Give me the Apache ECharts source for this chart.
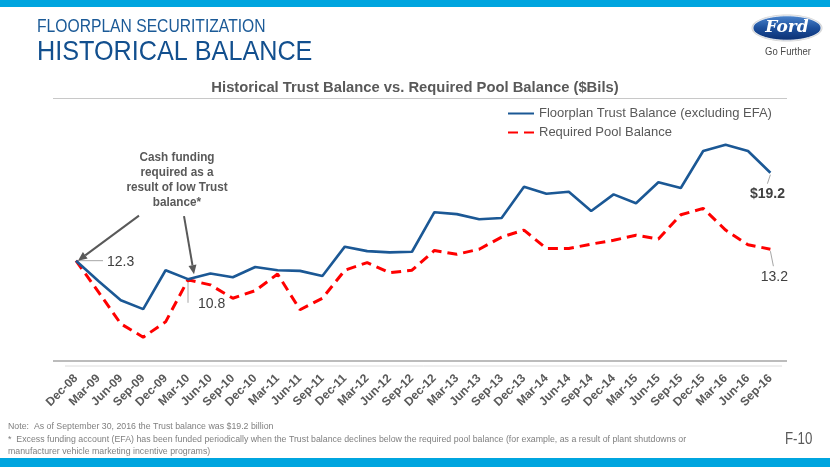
<!DOCTYPE html>
<html><head><meta charset="utf-8">
<script src="https://cdn.jsdelivr.net/npm/echarts@6/dist/echarts.min.js"></script>
<style>html,body{margin:0;padding:0;background:#fff}#c{width:830px;height:467px}</style>
</head><body><div id="c"></div>
<script>
const categories = ['Dec-08','Mar-09','Jun-09','Sep-09','Dec-09','Mar-10','Jun-10','Sep-10','Dec-10','Mar-11','Jun-11','Sep-11','Dec-11','Mar-12','Jun-12','Sep-12','Dec-12','Mar-13','Jun-13','Sep-13','Dec-13','Mar-14','Jun-14','Sep-14','Dec-14','Mar-15','Jun-15','Sep-15','Dec-15','Mar-16','Jun-16','Sep-16'];
const trustBalance = [12.3,10.7,9.2,8.5,11.55,10.85,11.3,11.0,11.8,11.55,11.5,11.1,13.4,13.05,12.95,13.0,16.1,15.95,15.55,15.65,18.1,17.55,17.7,16.2,17.5,16.8,18.45,18.0,20.9,21.4,20.9,19.2];
const requiredPool = [12.3,9.85,7.35,6.3,7.5,10.8,10.4,9.35,9.95,11.25,8.45,9.35,11.55,12.15,11.35,11.55,13.1,12.8,13.2,14.15,14.7,13.25,13.25,13.6,13.9,14.3,14.0,15.9,16.4,14.7,13.55,13.2];
const seriesNames = ['Floorplan Trust Balance (excluding EFA)','Required Pool Balance'];
const annotationText = 'Cash funding\nrequired as a\nresult of low Trust\nbalance*';
const footNote1 = 'Note:  As of September 30, 2016 the Trust balance was $19.2 billion';
const footNote2 = '*  Excess funding account (EFA) has been funded periodically when the Trust balance declines below the required pool balance (for example, as a result of plant shutdowns or';
const footNote3 = 'manufacturer vehicle marketing incentive programs)';

const SANS = '"Liberation Sans",Arial,sans-serif';
const BLUE = '#1b5895';
const GRAY = '#595959';

const chart = echarts.init(document.getElementById('c'));
chart.setOption({
  animation: false,
  backgroundColor: '#fff',
  legend: {
    orient: 'vertical', left: 502, top: 102, itemWidth: 26, itemHeight: 12, itemGap: 6,
    itemStyle: {opacity: 0},
    textStyle: {fontFamily: SANS, fontSize: 13, color: GRAY},
    data: seriesNames
  },
  grid: {left: 76, right: 59.6, top: 111.5, bottom: 100.5},
  xAxis: {
    type: 'category', data: categories, boundaryGap: false,
    axisLine: {show: false}, axisTick: {show: false},
    axisLabel: {interval: 0, rotate: 45, margin: 10, color: GRAY, fontFamily: SANS, fontWeight: 'bold', fontSize: 12}
  },
  yAxis: {type: 'value', min: 4, max: 24, show: false, splitLine: {show: false}},
  series: [
    {name: seriesNames[0], type: 'line', data: trustBalance, symbol: 'none', lineStyle: {color: BLUE, width: 2.6}, itemStyle: {color: BLUE}, z: 3},
    {name: seriesNames[1], type: 'line', data: requiredPool, symbol: 'none', lineStyle: {color: '#ff0000', width: 3, type: [10, 6]}, itemStyle: {color: '#ff0000'}, z: 2}
  ]
});

function px(seriesIdx, i) {
  const arr = seriesIdx === 0 ? trustBalance : requiredPool;
  return chart.convertToPixel({gridIndex: 0}, [i, arr[i]]);
}
function line(x1, y1, x2, y2, color, w) {
  return {type: 'line', shape: {x1, y1, x2, y2}, style: {stroke: color, lineWidth: w}, silent: true};
}
function arrow(x1, y1, x2, y2) {
  const ang = Math.atan2(y2 - y1, x2 - x1), L = 9, W = 4;
  const bx = x2 - L * Math.cos(ang), by = y2 - L * Math.sin(ang);
  const nx = -Math.sin(ang) * W, ny = Math.cos(ang) * W;
  return [
    line(x1, y1, bx, by, '#595959', 2),
    {type: 'polygon', shape: {points: [[x2, y2], [bx + nx, by + ny], [bx - nx, by - ny]]}, style: {fill: '#595959'}, silent: true}
  ];
}
function txt(x, y, text, opts, sx) {
  const el = {type: 'text', x, y, silent: true, style: Object.assign({text, fill: '#404040', fontFamily: SANS, fontSize: 14, align: 'left', verticalAlign: 'middle'}, opts || {})};
  if (sx) { el.scaleX = sx; }
  return el;
}

const last = categories.length - 1;
const p0 = px(0, 0);
const pM = px(0, 5);
const rM = px(1, 5);
const pE = px(0, last);
const rE = px(1, last);
const g = [];
// frame bars
g.push({type: 'rect', shape: {x: 0, y: 0, width: 830, height: 7}, style: {fill: '#00a5df'}, silent: true});
g.push({type: 'rect', shape: {x: 0, y: 458, width: 830, height: 9}, style: {fill: '#00a5df'}, silent: true});
// headings
g.push(txt(37, 27, 'FLOORPLAN SECURITIZATION', {fill: '#1b5a97', fontSize: 18}, 0.87));
g.push(txt(37, 52.5, 'HISTORICAL BALANCE', {fill: '#124f8e', fontSize: 28}, 0.9));
g.push(txt(415, 88, 'Historical Trust Balance vs. Required Pool Balance ($Bils)', {fill: GRAY, fontSize: 15, fontWeight: 'bold', align: 'center'}, 0.985));
// rules
g.push(line(53, 98.5, 787, 98.5, '#c8c8c8', 1));
g.push(line(53, 361, 787, 361, '#a6a6a6', 1.5));
g.push(line(65, 366, 782, 366, '#dcdcdc', 1));
// data labels
g.push(line(p0[0] + 2, p0[1], p0[0] + 27, p0[1], '#a6a6a6', 1));
g.push(txt(p0[0] + 31, p0[1] + 1, trustBalance[0].toFixed(1)));
g.push(line(rM[0], rM[1] + 2, rM[0], rM[1] + 23, '#a6a6a6', 1));
g.push(txt(rM[0] + 10, rM[1] + 24, requiredPool[5].toFixed(1)));
g.push(line(pE[0], pE[1] + 2, pE[0] - 3, pE[1] + 11, '#a6a6a6', 1));
g.push(txt(pE[0] - 3, pE[1] + 21, '$' + trustBalance[last].toFixed(1), {align: 'center', fontWeight: 'bold'}));
g.push(line(rE[0], rE[1] + 2, rE[0] + 3, rE[1] + 17, '#a6a6a6', 1));
g.push(txt(rE[0] + 4, rE[1] + 28, requiredPool[last].toFixed(1), {align: 'center'}));
// annotation
g.push({type: 'text', x: pM[0] - 11, y: pM[1] - 129, scaleX: 0.87, silent: true,
  style: {text: annotationText, align: 'center', verticalAlign: 'top', fontFamily: SANS, fontWeight: 'bold', fontSize: 13.5, lineHeight: 15, fill: GRAY}});
g.push(...arrow(p0[0] + 63, p0[1] - 45, p0[0] + 2, p0[1]));
g.push(...arrow(pM[0] - 4, pM[1] - 63, pM[0] + 6, pM[1] - 5));
// logo
g.push({type: 'ellipse', shape: {cx: 787, cy: 28, rx: 35.5, ry: 13.5}, style: {fill: '#d6d6d6'}, silent: true});
g.push({type: 'ellipse', shape: {cx: 787, cy: 28, rx: 34, ry: 12.2}, style: {fill: new echarts.graphic.LinearGradient(0, 0, 0, 1, [{offset: 0, color: '#4c86cf'}, {offset: 0.5, color: '#1c4f9c'}, {offset: 1, color: '#0b2f72'}]), stroke: '#ffffff', lineWidth: 0.8}, silent: true});
g.push(txt(787, 28, 'Ford', {align: 'center', fill: '#ffffff', fontFamily: '"DejaVu Serif",serif', fontStyle: 'italic', fontWeight: 'bold', fontSize: 17}));
g.push(txt(788, 52, 'Go Further', {align: 'center', fill: '#4a4a4a', fontFamily: SANS, fontSize: 10}, 0.95));
// footnotes
g.push(txt(8, 426, footNote1, {fill: '#7f7f7f', fontSize: 9.5}, 0.925));
g.push(txt(8, 439.5, footNote2, {fill: '#7f7f7f', fontSize: 9.5}, 0.925));
g.push(txt(8, 451.5, footNote3, {fill: '#7f7f7f', fontSize: 9.5}, 0.925));
g.push(txt(785, 440, 'F-10', {fill: GRAY, fontSize: 16}, 0.83));
chart.setOption({graphic: g});
</script></body></html>
